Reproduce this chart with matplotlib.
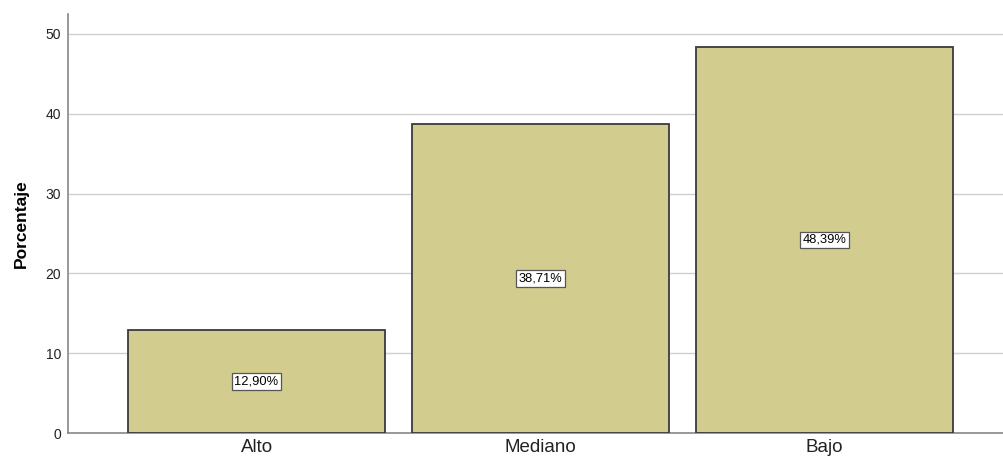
import matplotlib.pyplot as plt
import numpy as np

# Niveles y porcentajes
categorias = ['Alto', 'Mediano', 'Bajo']
porcentajes = [12.90, 38.71, 48.39]
etiquetas = ['12,90%', '38,71%', '48,39%']
yticks = [0, 10, 20, 30, 40, 50]

fig = plt.figure(figsize=(10.04, 4.59), dpi=100)
ax = fig.add_axes([0.0677, 0.0566, 0.9323, 0.9129])

x = np.arange(len(categorias))
ax.bar(x, porcentajes, width=0.905, color='#D2CC8F', edgecolor='#3a3a3a',
       linewidth=1.3, zorder=3)

# etiquetas de valor en el centro de cada barra
for xi, val, lab in zip(x, porcentajes, etiquetas):
    ax.text(xi, val / 2, lab, ha='center', va='center', fontsize=9.3,
            family='Liberation Sans', zorder=4,
            bbox=dict(boxstyle='square,pad=0.18', facecolor='white',
                      edgecolor='#555555', linewidth=0.9))

ax.set_xlim(-0.664, 2.632)
ax.set_ylim(0, 52.5)
ax.set_yticks(yticks)
ax.set_xticks(x)
ax.set_xticklabels(categorias, fontsize=13.5, family='Liberation Sans', color='#222222')
ax.set_yticklabels([str(t) for t in yticks], fontsize=10, family='Liberation Sans',
                   color='#222222')
ax.tick_params(axis='both', length=0)
ax.tick_params(axis='y', pad=5)
ax.tick_params(axis='x', pad=4.5)

ax.yaxis.grid(True, color='#d0d0d0', linewidth=1.0, zorder=0)
ax.set_axisbelow(True)

for s in ['top', 'right']:
    ax.spines[s].set_visible(False)
for s in ['left', 'bottom']:
    ax.spines[s].set_color('#888888')
    ax.spines[s].set_linewidth(1.2)

ax.set_ylabel('Porcentaje', fontsize=12.5, fontweight='bold',
              family='Liberation Sans', labelpad=12)

plt.savefig('out.png', dpi=100)
